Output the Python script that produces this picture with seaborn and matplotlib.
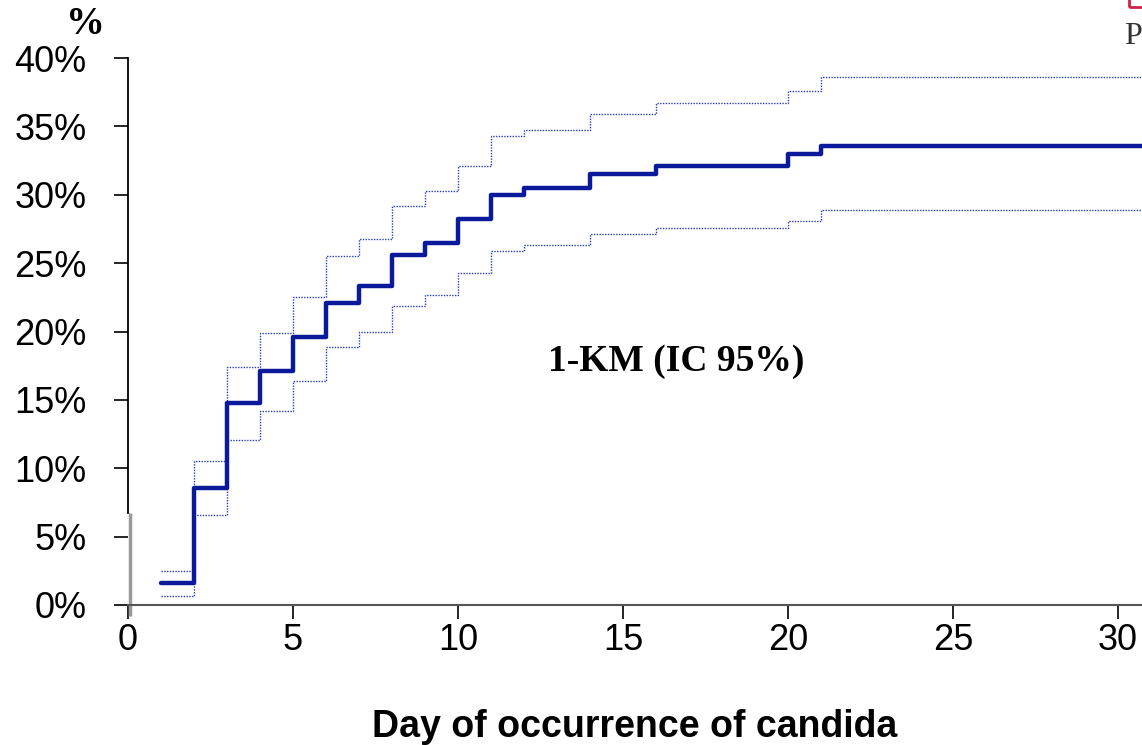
import numpy as np
import pandas as pd
import matplotlib
matplotlib.use("Agg")
import matplotlib.pyplot as plt
from matplotlib.ticker import PercentFormatter
from matplotlib.patches import Rectangle
import seaborn as sns

# Data (cumulative incidence 1-KM, %)
days = [1, 2, 3, 4, 5, 6, 7, 8, 9, 10, 11, 12, 14, 16, 20, 21, 31]
km = [1.6, 8.55, 14.8, 17.1, 19.6, 22.1, 23.3, 25.6, 26.5, 28.2, 30.0, 30.5, 31.5, 32.1, 33.0, 33.6, 33.6]
upper = [2.5, 10.5, 17.4, 19.9, 22.5, 25.5, 26.8, 29.2, 30.3, 32.1, 34.3, 34.7, 35.9, 36.7, 37.6, 38.6, 38.6]
lower = [0.66, 6.6, 12.1, 14.2, 16.4, 18.9, 20.0, 21.9, 22.7, 24.3, 25.9, 26.3, 27.1, 27.6, 28.1, 28.9, 28.9]
xticks = [0, 5, 10, 15, 20, 25, 30]
yticks = [0, 5, 10, 15, 20, 25, 30, 35, 40]

df = pd.DataFrame({"day": days, "km": km, "upper": upper, "lower": lower})

sns.set_style("ticks")
plt.rcParams["font.family"] = ["Liberation Sans", "DejaVu Sans"]
plt.rcParams["text.color"] = "black"

fig = plt.figure(figsize=(11.42, 7.45), dpi=100)
ax = fig.add_axes([128 / 1142, 140 / 745, 1 - 128 / 1142, (605 - 58) / 745])

ci_kw = dict(color="#2a3cc0", linewidth=1.0, linestyle=(0, (1, 1)), drawstyle="steps-post",
             estimator=None, ax=ax, legend=False)
sns.lineplot(data=df, x="day", y="upper", **ci_kw)
sns.lineplot(data=df, x="day", y="lower", **ci_kw)
sns.lineplot(data=df, x="day", y="km", color="#0a1a9a", linewidth=3.2, drawstyle="steps-post",
             estimator=None, ax=ax, legend=False)

ax.set_xlim(0, (1142 - 128) / 33.0)
ax.set_ylim(0, 40)
ax.set_xticks(xticks)
ax.set_yticks(yticks)
ax.yaxis.set_major_formatter(PercentFormatter(decimals=0))
ax.tick_params(axis="both", labelsize=26, length=10, width=1.2, color="black", labelcolor="black")
ax.tick_params(axis="y", pad=20)
ax.tick_params(axis="x", pad=3)

for s in ["top", "right"]:
    ax.spines[s].set_visible(False)
ax.spines["left"].set_color("black")
ax.spines["left"].set_linewidth(1.3)
ax.spines["left"].set_bounds(6.7, 40)
ax.spines["bottom"].set_color("#555555")
ax.spines["bottom"].set_linewidth(1.5)

# grey lower segment of the y axis (as in the original)
ax.plot([0.002, 0.002], [-0.02, 0.168], transform=ax.transAxes, color="#999999",
        linewidth=2.5, clip_on=False, solid_capstyle="butt")

ax.set_xlabel("Day of occurrence of candida", fontsize=27, fontweight="bold", labelpad=37,
              color="black")
ax.set_ylabel("")

ax.text(16.6, 17.8, "1-KM (IC 95%)", fontsize=27, fontweight="bold", color="black",
        family=["Liberation Serif", "DejaVu Serif"], ha="center", va="center")

fig.text(85 / 1142, 1 - 25 / 745, "%", fontsize=28, fontweight="bold", color="black",
         family=["Liberation Serif", "DejaVu Serif"], ha="center", va="center")
fig.text(1124 / 1142, 1 - 37 / 745, "P", fontsize=23, color="#333333",
         family=["Liberation Serif", "DejaVu Serif"], ha="left", va="center")
fig.patches.append(Rectangle((1129 / 1142, 1 - 7 / 745), 40 / 1142, 30 / 745,
                             transform=fig.transFigure, fill=False, edgecolor="#d0204a",
                             linewidth=2, figure=fig))

fig.savefig("out.png", dpi=100, facecolor="white")
